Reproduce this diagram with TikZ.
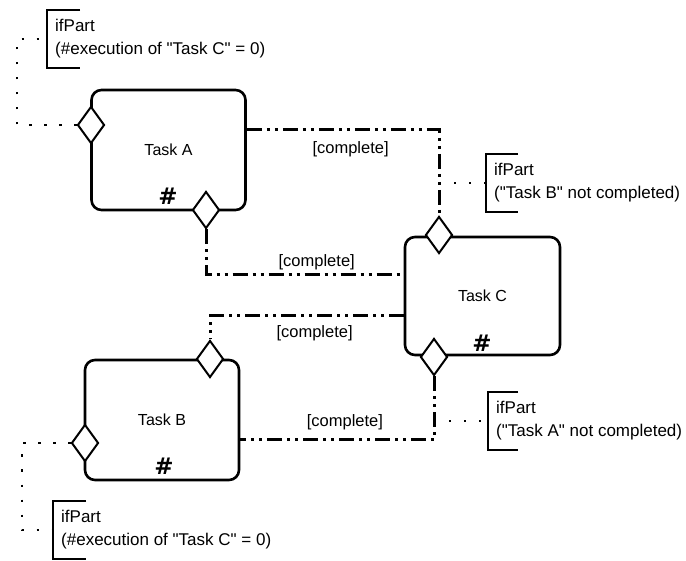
\documentclass[tikz,border=0pt]{standalone}
\usepackage{fontspec}
\setmainfont{Liberation Sans}
\newfontfamily\hashfont{DejaVu Sans}
\usetikzlibrary{shapes.geometric}

\tikzset{
  task/.style={draw, line width=2.6pt, rounded corners=10pt,
    minimum width=154pt, minimum height=120pt, inner sep=0pt,
    font=\fontsize{16}{19}\selectfont},
  gate/.style={draw, shape=diamond, fill=white, line width=2pt,
    minimum width=27pt, minimum height=37pt, inner sep=0pt},
  hash/.style={inner sep=0pt, font=\hashfont\fontsize{23}{23}\bfseries\selectfont},
  flow/.style={line width=3pt,
    dash pattern=on 15pt off 5pt on 3pt off 5pt on 3pt off 5pt},
  link/.style={line width=2.4pt, dash pattern=on 2.4pt off 12.6pt},
  guard/.style={inner sep=0pt, font=\fontsize{16.5}{19}\selectfont},
  note/.style={anchor=west, align=left, inner xsep=8pt, inner ysep=0pt,
    minimum height=58pt, font=\fontsize{17}{23}\selectfont},
  bracket/.style={line width=2.4pt}
}

\begin{document}
\begin{tikzpicture}[x=1pt, y=-1pt]
  \useasboundingbox (0,0) rectangle (686,561);

  \node[task] (taskA) at (168.5,150) {Task A};
  \node[task, minimum width=155pt, minimum height=118pt] (taskC) at (482.5,296) {Task C};
  \node[task] (taskB) at (162,420) {Task B};

  \node[hash] (hashA) at (168,196) {\#};
  \node[hash] (hashC) at (482,343) {\#};
  \node[hash] (hashB) at (164,466) {\#};

  \node[gate] (gateA1) at (91,125) {};
  \node[gate] (gateA2) at (206,210) {};
  \node[gate] (gateC1) at (439,235) {};
  \node[gate] (gateC2) at (434,357) {};
  \node[gate] (gateB1) at (210,359) {};
  \node[gate] (gateB2) at (85,443) {};

  \draw[flow] ([yshift=20pt]taskA.east) -| (gateC1.north)
    node[guard, pos=0.27, yshift=-19pt] {[complete]};
  \draw[flow] (gateA2.south) |- ([yshift=21pt]taskC.west)
    node[guard, pos=0.78, yshift=13pt] {[complete]};
  \draw[flow] ([yshift=-20pt]taskC.west) -| (gateB1.north)
    node[guard, pos=0.23, yshift=-17pt] {[complete]};
  \draw[flow] (gateC2.south) |- ([yshift=-20pt]taskB.east)
    node[guard, pos=0.73, yshift=18pt] {[complete]};

  \node[note] (noteA) at (47,39) {ifPart\\(\#execution of \textquotedbl Task C\textquotedbl{} = 0)};
  \node[note] (noteB) at (486,183) {ifPart\\(\textquotedbl Task B\textquotedbl{} not completed)};
  \node[note] (noteC) at (488,421) {ifPart\\(\textquotedbl Task A\textquotedbl{} not completed)};
  \node[note] (noteD) at (53,530) {ifPart\\(\#execution of \textquotedbl Task C\textquotedbl{} = 0)};

  \draw[bracket] ([xshift=33pt]noteA.north west) -| (noteA.south west) -- ++(33,0);
  \draw[bracket] ([xshift=32pt]noteB.north west) -| (noteB.south west) -- ++(32,0);
  \draw[bracket] ([xshift=30pt]noteC.north west) -| (noteC.south west) -- ++(30,0);
  \draw[bracket] ([xshift=33pt]noteD.north west) -| (noteD.south west) -- ++(33,0);

  \coordinate (bendA) at (17,125);
  \coordinate (bendB) at (22,443);
  \draw[link] (gateA1.west) -- (bendA) |- (noteA.west);
  \draw[link] (gateB2.west) -- (bendB) |- (noteD.west);
  \draw[link] (gateC1.north |- noteB.west) -- (noteB.west);
  \draw[link] (gateC2.south |- noteC.west) -- (noteC.west);
\end{tikzpicture}
\end{document}
